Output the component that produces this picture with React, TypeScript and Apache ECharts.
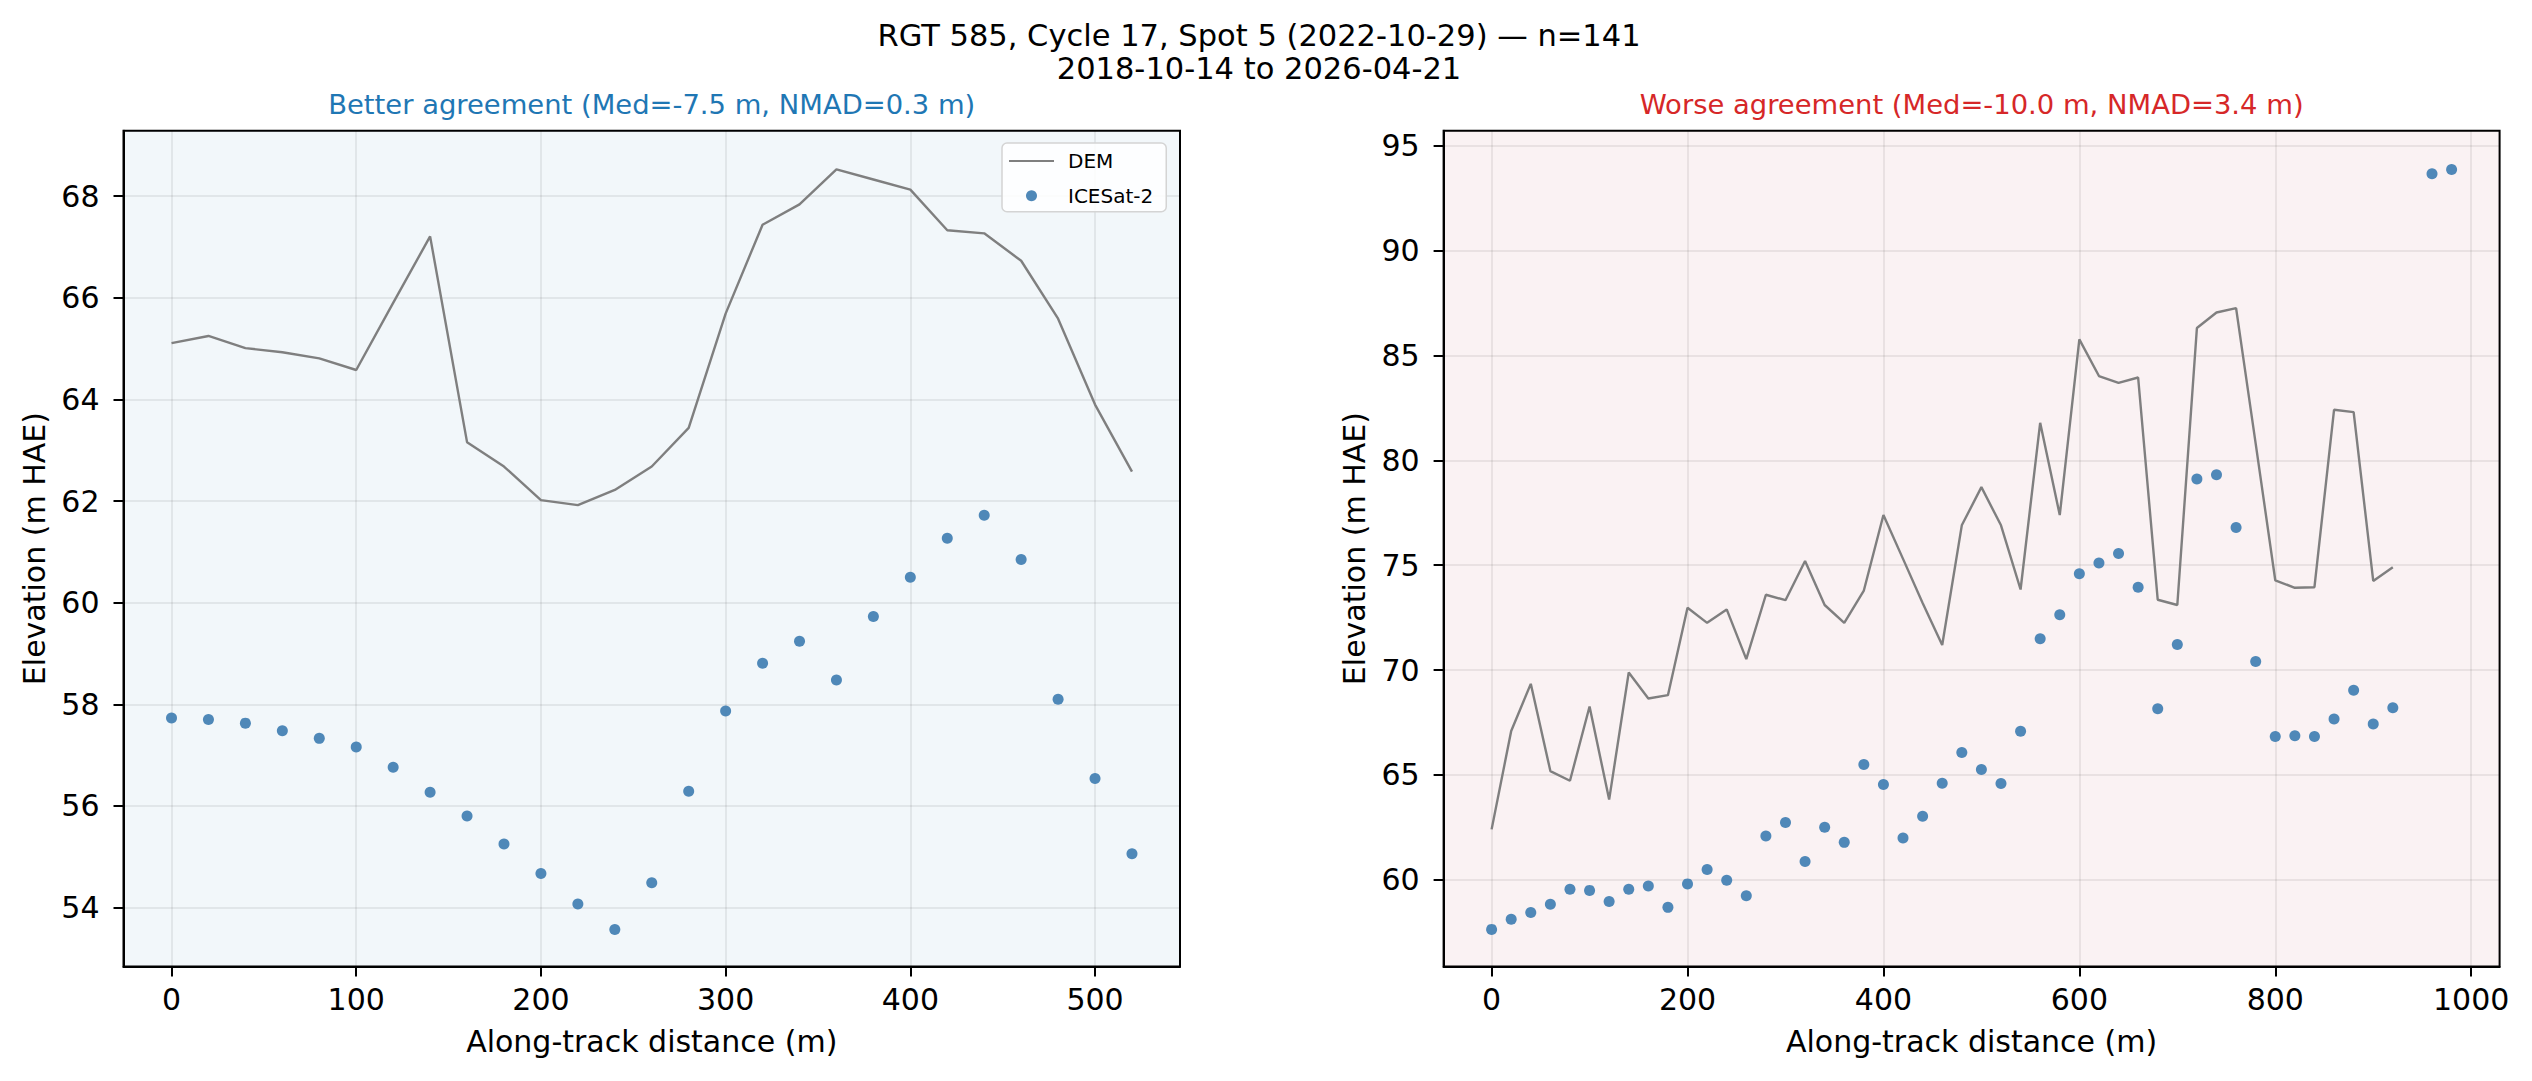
import React, { useEffect, useRef } from 'react';
import * as echarts from 'echarts';

const FONT = 'DejaVu Sans';

const suptitleLines = ['RGT 585, Cycle 17, Spot 5 (2022-10-29) \u2014 n=141', '2018-10-14 to 2026-04-21'];
const leftTitle = 'Better agreement (Med=-7.5 m, NMAD=0.3 m)';
const rightTitle = 'Worse agreement (Med=-10.0 m, NMAD=3.4 m)';
const xName = 'Along-track distance (m)';
const yName = 'Elevation (m HAE)';

// Left panel
const leftX = [0, 20, 40, 60, 80, 100, 120, 140, 160, 180, 200, 220, 240, 260, 280, 300, 320, 340, 360, 380, 400, 420, 440, 460, 480, 500, 520];
const leftIce = [57.73, 57.70, 57.63, 57.48, 57.33, 57.16, 56.76, 56.27, 55.80, 55.25, 54.67, 54.07, 53.57, 54.49, 56.29, 57.87, 58.81, 59.24, 58.48, 59.73, 60.50, 61.27, 61.72, 60.85, 58.10, 56.54, 55.06];
const leftDem = [65.11, 65.25, 65.01, 64.93, 64.81, 64.58, 65.90, 67.21, 63.16, 62.68, 62.02, 61.92, 62.22, 62.68, 63.44, 65.69, 67.44, 67.84, 68.53, 68.33, 68.13, 67.33, 67.27, 66.73, 65.59, 63.90, 62.58];
const leftXTicks = [0, 100, 200, 300, 400, 500];
const leftYTicks = [54, 56, 58, 60, 62, 64, 66, 68];

// Right panel
const rightIceX = [0, 20, 40, 60, 80, 100, 120, 140, 160, 180, 200, 220, 240, 260, 280, 300, 320, 340, 360, 380, 400, 420, 440, 460, 480, 500, 520, 540, 560, 580, 600, 620, 640, 660, 680, 700, 720, 740, 760, 780, 800, 820, 840, 860, 880, 900, 920, 960, 980];
const rightIce = [57.63, 58.11, 58.43, 58.83, 59.54, 59.49, 58.96, 59.54, 59.70, 58.68, 59.80, 60.49, 59.97, 59.23, 62.08, 62.73, 60.87, 62.50, 61.78, 65.49, 64.54, 61.99, 63.03, 64.60, 66.07, 65.26, 64.59, 67.08, 71.49, 72.64, 74.59, 75.10, 75.56, 73.95, 68.15, 71.22, 79.11, 79.31, 76.80, 70.41, 66.83, 66.86, 66.83, 67.66, 69.03, 67.43, 68.20, 93.67, 93.87];
const rightDemX = [0, 20, 40, 60, 80, 100, 120, 140, 160, 180, 200, 220, 240, 260, 280, 300, 320, 340, 360, 380, 400, 420, 440, 460, 480, 500, 520, 540, 560, 580, 600, 620, 640, 660, 680, 700, 720, 740, 760, 780, 800, 820, 840, 860, 880, 900, 920];
const rightDem = [62.40, 67.09, 69.34, 65.18, 64.72, 68.26, 63.82, 69.88, 68.64, 68.80, 72.97, 72.25, 72.89, 70.52, 73.59, 73.33, 75.20, 73.10, 72.25, 73.79, 77.39, 75.30, 73.20, 71.19, 76.90, 78.72, 76.90, 73.84, 81.79, 77.39, 85.77, 84.02, 83.69, 83.95, 73.35, 73.10, 86.31, 87.05, 87.26, 80.80, 74.28, 73.92, 73.95, 82.41, 82.30, 74.25, 74.90];
const rightXTicks = [0, 200, 400, 600, 800, 1000];
const rightYTicks = [60, 65, 70, 75, 80, 85, 90, 95];

const zip = (xs: number[], ys: number[]) => xs.map((x, i) => [x, ys[i]]);

const GRID_LINE = 'rgba(0,0,0,0.09)';
const FS = 30;
const DEM_W = 2.4;

function xAxisOf(gridIndex: number, min: number, max: number, ticks: number[]) {
  return {
    type: 'value', gridIndex, min, max,
    name: xName, nameLocation: 'middle', nameGap: 60,
    nameTextStyle: { fontFamily: FONT, fontSize: FS, color: '#000' },
    axisLine: { show: true, onZero: false, lineStyle: { color: '#000', width: 2 } },
    axisTick: { show: true, length: 10, lineStyle: { color: '#000', width: 2 }, customValues: ticks },
    axisLabel: { fontFamily: FONT, fontSize: FS, color: '#000', margin: 18, customValues: ticks, lineHeight: FS, formatter: (v: number) => String(v) },
    splitLine: { show: true, lineStyle: { color: GRID_LINE, width: 1.5 } },
  };
}

function yAxisOf(gridIndex: number, min: number, max: number, ticks: number[]) {
  return {
    type: 'value', gridIndex, min, max,
    name: yName, nameLocation: 'middle', nameGap: 74,
    nameTextStyle: { fontFamily: FONT, fontSize: FS, color: '#000' },
    axisLine: { show: true, onZero: false, lineStyle: { color: '#000', width: 2 } },
    axisTick: { show: true, length: 10, lineStyle: { color: '#000', width: 2 }, customValues: ticks },
    axisLabel: { fontFamily: FONT, fontSize: FS, color: '#000', margin: 24, customValues: ticks, formatter: (v: number) => String(v) },
    splitLine: { show: true, lineStyle: { color: GRID_LINE, width: 1.5 } },
  };
}

export default function App() {
  const ref = useRef<HTMLDivElement>(null);
  useEffect(() => {
    const chart = echarts.init(ref.current!, null, { renderer: 'svg' });
    const option: any = {
      animation: false,
      backgroundColor: '#ffffff',
      grid: [
        { left: 123.5, top: 130.7, width: 1056.5, height: 835.8, show: true, backgroundColor: '#f2f7fa', borderColor: '#000', borderWidth: 2 },
        { left: 1443.6, top: 130.7, width: 1056, height: 835.8, show: true, backgroundColor: '#faf2f3', borderColor: '#000', borderWidth: 2 },
      ],
      xAxis: [
        xAxisOf(0, -26, 546, leftXTicks),
        xAxisOf(1, -49, 1029, rightXTicks),
      ],
      yAxis: [
        yAxisOf(0, 52.84, 69.29, leftYTicks),
        yAxisOf(1, 55.86, 95.72, rightYTicks),
      ],
      legend: {
        orient: 'vertical', left: 1002, top: 143,
        padding: [8, 13, 6, 6],
        itemWidth: 45, itemHeight: 11, itemGap: 14.7,
        backgroundColor: 'rgba(255,255,255,0.85)', borderColor: '#d4d4d4', borderWidth: 1.5, borderRadius: 5,
        textStyle: { fontFamily: FONT, fontSize: 20, color: '#000', lineHeight: 18, padding: [0, 0, 0, 9] },
        data: [{ name: 'DEM', itemStyle: { opacity: 0 } }, { name: 'ICESat-2', icon: 'circle' }],
      },
      graphic: [
        { type: 'text', x: 1259, y: 35, style: { text: suptitleLines[0], fill: '#000', font: `30.5px "${FONT}"`, align: 'center', verticalAlign: 'middle' } },
        { type: 'text', x: 1259, y: 68, style: { text: suptitleLines[1], fill: '#000', font: `30.5px "${FONT}"`, align: 'center', verticalAlign: 'middle' } },
        { type: 'text', x: 651.75, y: 104, style: { text: leftTitle, fill: '#1f77b4', font: `27.4px "${FONT}"`, align: 'center', verticalAlign: 'middle' } },
        { type: 'text', x: 1971.6, y: 104, style: { text: rightTitle, fill: '#d62728', font: `27.4px "${FONT}"`, align: 'center', verticalAlign: 'middle' } },
      ],
      series: [
        { name: 'DEM', type: 'line', xAxisIndex: 0, yAxisIndex: 0, data: zip(leftX, leftDem), symbol: 'none', lineStyle: { color: '#7f7f7f', width: DEM_W }, itemStyle: { color: '#7f7f7f' }, z: 2 },
        { name: 'ICESat-2', type: 'scatter', xAxisIndex: 0, yAxisIndex: 0, data: zip(leftX, leftIce), symbolSize: 11, itemStyle: { color: '#4682b4', opacity: 0.95 }, z: 3 },
        { name: 'DEM', type: 'line', xAxisIndex: 1, yAxisIndex: 1, data: zip(rightDemX, rightDem), symbol: 'none', lineStyle: { color: '#7f7f7f', width: DEM_W }, itemStyle: { color: '#7f7f7f' }, z: 2 },
        { name: 'ICESat-2', type: 'scatter', xAxisIndex: 1, yAxisIndex: 1, data: zip(rightIceX, rightIce), symbolSize: 11, itemStyle: { color: '#4682b4', opacity: 0.95 }, z: 3 },
      ],
    };
    chart.setOption(option);
    return () => chart.dispose();
  }, []);
  return <div ref={ref} style={{ position: 'fixed', left: 0, top: 0, width: 2532, height: 1081, background: '#fff' }} />;
}
